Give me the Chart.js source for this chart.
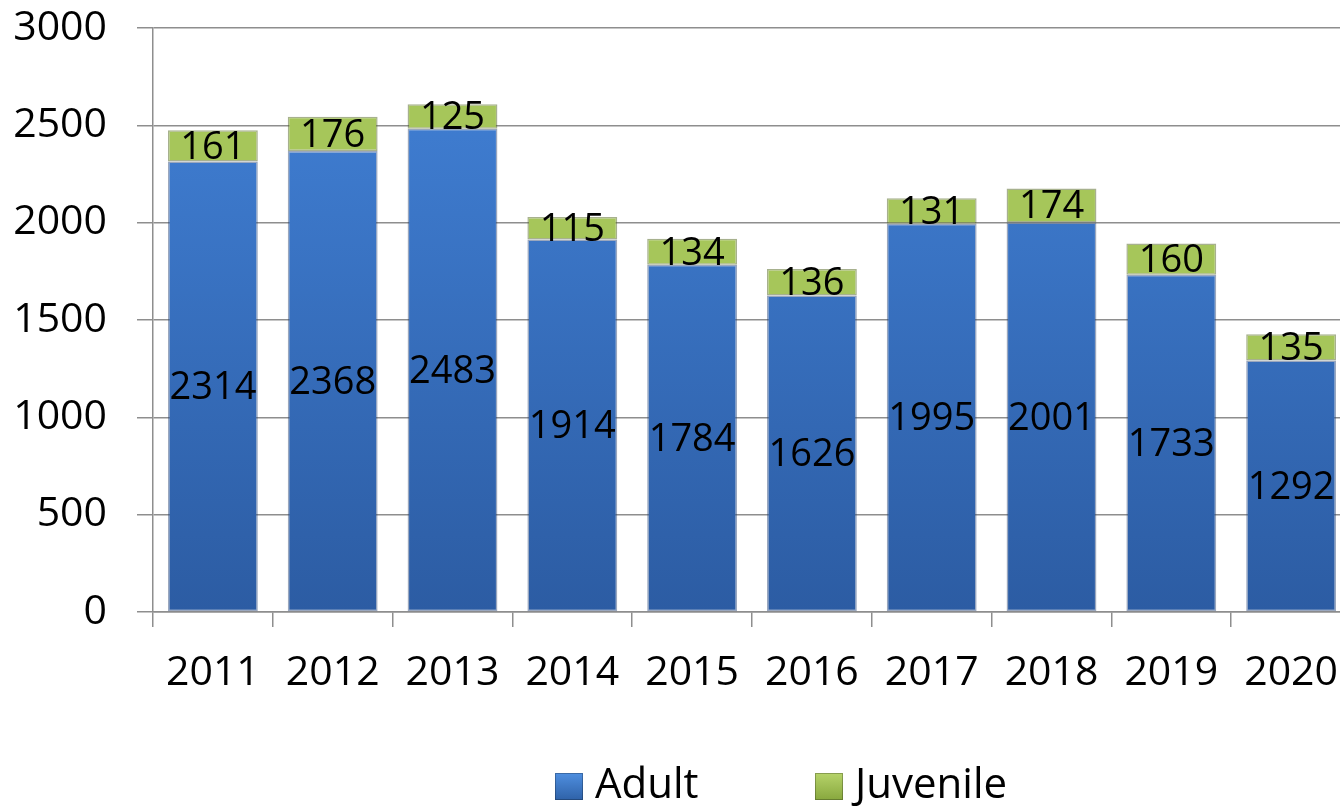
<!DOCTYPE html>
<html>
<head>
<meta charset="utf-8">
<script src="https://cdn.jsdelivr.net/npm/chart.js@4/dist/chart.umd.min.js"></script>
<style>
  html, body { margin: 0; padding: 0; background: #fff; overflow: hidden; }
  #wrap { width: 1360px; height: 807px; }
</style>
</head>
<body>
<div id="wrap"><canvas id="arrestChart" width="1360" height="807"></canvas></div>
<script>
const years = ["2011", "2012", "2013", "2014", "2015", "2016", "2017", "2018", "2019", "2020"];
const adult = [2314, 2368, 2483, 1914, 1784, 1626, 1995, 2001, 1733, 1292];
const juvenile = [161, 176, 125, 115, 134, 136, 131, 174, 160, 135];
const seriesNames = ["Adult", "Juvenile"];

const FONT = "'Open Sans', 'Noto Sans', sans-serif";

function vGradient(chart, top, bottom) {
  const area = chart.chartArea;
  if (!area) return top;
  const g = chart.ctx.createLinearGradient(0, area.top, 0, area.bottom);
  g.addColorStop(0, top);
  g.addColorStop(1, bottom);
  return g;
}

// draws the value of each segment centred inside it
const segmentLabels = {
  id: "segmentLabels",
  afterDatasetsDraw(chart) {
    const ctx = chart.ctx;
    ctx.save();
    ctx.font = "38px " + FONT;
    ctx.fillStyle = "#000";
    ctx.textAlign = "center";
    ctx.textBaseline = "middle";
    chart.data.datasets.forEach((ds, i) => {
      chart.getDatasetMeta(i).data.forEach((bar, j) => {
        const mid = (bar.y + bar.base) / 2;
        ctx.fillText(String(ds.data[j]), bar.x, mid + 2);
      });
    });
    ctx.restore();
  }
};

// legend at the bottom, spaced like the original
const bottomLegend = {
  id: "bottomLegend",
  afterDraw(chart) {
    const ctx = chart.ctx;
    const starts = [555, 815];
    const colors = [["#4f8fe0", "#2f62a8"], ["#b6d36a", "#88a83e"]];
    ctx.save();
    ctx.font = "42px " + FONT;
    ctx.textBaseline = "middle";
    ctx.textAlign = "left";
    chart.data.datasets.forEach((ds, i) => {
      const x = starts[i], y = 773;
      const g = ctx.createLinearGradient(0, y, 0, y + 27);
      g.addColorStop(0, colors[i][0]);
      g.addColorStop(1, colors[i][1]);
      ctx.fillStyle = g;
      ctx.fillRect(x, y, 28, 27);
      ctx.strokeStyle = "rgba(0,0,0,0.25)";
      ctx.lineWidth = 1;
      ctx.strokeRect(x + 0.5, y + 0.5, 27, 26);
      ctx.fillStyle = "#000";
      ctx.fillText(ds.label, x + 40, y + 13);
    });
    ctx.restore();
  }
};

new Chart(document.getElementById("arrestChart"), {
  type: "bar",
  data: {
    labels: years,
    datasets: [
      {
        label: seriesNames[0],
        data: adult,
        backgroundColor: (c) => vGradient(c.chart, "#4282d8", "#2c5ca3"),
        borderColor: "rgba(30,60,110,0.45)",
        borderWidth: 1.5,
        borderSkipped: false,
      },
      {
        label: seriesNames[1],
        data: juvenile,
        backgroundColor: "#a6c65a",
        borderColor: "rgba(80,100,30,0.5)",
        borderWidth: 1.5,
        borderSkipped: false,
      },
    ],
  },
  options: {
    responsive: false,
    animation: false,
    devicePixelRatio: 1,
    layout: { padding: { top: 28, right: 0, left: 0, bottom: 0 } },
    plugins: {
      legend: { display: false },
      tooltip: { enabled: false },
    },
    datasets: {
      bar: { categoryPercentage: 1, barPercentage: 0.75 },
    },
    scales: {
      x: {
        stacked: true,
        afterFit: (s) => { s.height = 195; s.paddingTop = 0; },
        grid: {
          offset: true,
          drawOnChartArea: false,
          drawTicks: true,
          tickLength: 15,
          color: "#8e8e8e",
          lineWidth: 1.5,
        },
        border: { color: "#8e8e8e", width: 1.5 },
        ticks: {
          color: "#000",
          padding: 22,
          font: { family: FONT, size: 41 },
          maxRotation: 0,
        },
      },
      y: {
        stacked: true,
        min: 0,
        max: 3000,
        afterFit: (s) => { s.width = 153; s.paddingTop = 0; s.paddingBottom = 0; },
        grid: {
          color: "#8e8e8e",
          lineWidth: 1.5,
          tickLength: 16,
        },
        border: { color: "#8e8e8e", width: 1.5 },
        ticks: {
          stepSize: 500,
          color: "#000",
          padding: 30,
          font: { family: FONT, size: 41 },
          callback: (v) => String(v),
        },
      },
    },
  },
  plugins: [segmentLabels, bottomLegend],
});
</script>
</body>
</html>
